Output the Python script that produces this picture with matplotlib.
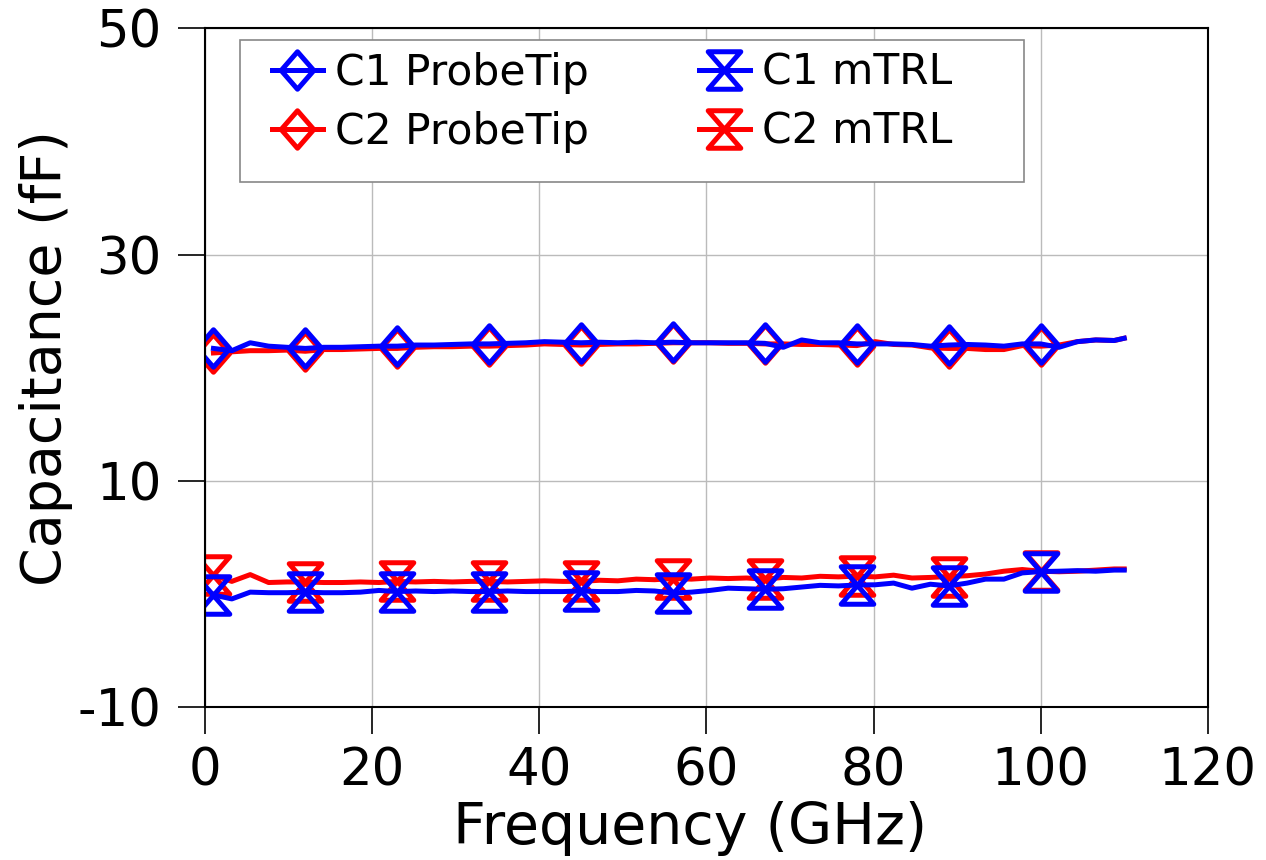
import numpy as np
import matplotlib
matplotlib.use("Agg")
import matplotlib.pyplot as plt
from matplotlib.path import Path
from matplotlib.patches import Rectangle

plt.rcParams["font.family"] = ["DejaVu Sans"]
plt.rcParams["axes.unicode_minus"] = False

# frequency grid (GHz), markers every 5th point -> 1, 12, 23, ... 100
freq = list(np.round(np.arange(1, 109.9, 2.2), 1)) + [110.0]

c1_probetip = [21.7, 21.5, 22.2, 21.9, 21.8, 21.7, 21.8, 21.8, 21.85, 21.9,
               21.9, 22.0, 22.0, 22.05, 22.1, 22.1, 22.15, 22.2, 22.3, 22.25,
               22.2, 22.25, 22.2, 22.25, 22.2, 22.25, 22.2, 22.2, 22.2, 22.2,
               22.15, 21.8, 22.45, 22.2, 22.2, 22.1, 22.1, 22.1, 22.05, 21.9,
               22.0, 22.05, 22.0, 21.9, 22.1, 22.1, 21.8, 22.3, 22.45, 22.4,
               22.6]
c2_probetip = [21.3, 21.4, 21.5, 21.5, 21.55, 21.45, 21.6, 21.6, 21.65, 21.7,
               21.7, 21.8, 21.85, 21.85, 21.9, 21.9, 21.95, 22.0, 22.1, 22.05,
               22.0, 22.05, 22.1, 22.1, 22.15, 22.2, 22.2, 22.2, 22.15, 22.15,
               22.1, 22.1, 22.05, 22.05, 22.0, 21.95, 22.3, 22.05, 22.0, 21.75,
               21.7, 21.7, 21.6, 21.6, 21.95, 21.9, 22.0, 22.3, 22.45, 22.4,
               22.6]
c1_mtrl = [-0.1, -0.45, 0.15, 0.1, 0.1, 0.15, 0.1, 0.1, 0.15, 0.3,
           0.2, 0.25, 0.2, 0.25, 0.2, 0.2, 0.25, 0.2, 0.2, 0.2,
           0.25, 0.2, 0.2, 0.3, 0.25, 0.07, 0.15, 0.3, 0.5, 0.45,
           0.4, 0.45, 0.6, 0.75, 0.7, 0.78, 0.8, 0.95, 0.5, 0.85,
           0.7, 0.95, 1.3, 1.3, 1.85, 1.97, 2.0, 2.05, 2.0, 2.1,
           2.1]
c2_mtrl = [1.65, 1.1, 1.7, 1.0, 1.05, 1.05, 1.0, 1.0, 1.05, 1.0,
           1.1, 1.05, 1.1, 1.05, 1.1, 1.1, 1.05, 1.1, 1.15, 1.1,
           1.1, 1.2, 1.15, 1.3, 1.25, 1.35, 1.3, 1.4, 1.35, 1.4,
           1.3, 1.45, 1.4, 1.55, 1.5, 1.57, 1.5, 1.65, 1.4, 1.45,
           1.53, 1.6, 1.75, 2.0, 2.15, 2.0, 1.95, 2.0, 2.1, 2.2,
           2.2]

diamond = Path([(0, 1), (0.87, 0), (0, -1), (-0.87, 0), (0, 1)],
               [Path.MOVETO, Path.LINETO, Path.LINETO, Path.LINETO, Path.CLOSEPOLY])
hourglass = Path([(-0.87, 1), (0.87, 1), (-0.87, -1), (0.87, -1), (-0.87, 1)],
                 [Path.MOVETO, Path.LINETO, Path.LINETO, Path.LINETO, Path.CLOSEPOLY])

marks = list(range(0, 46, 5))
style = dict(lw=3.6, ms=27, mew=3.6, mfc="none", markevery=marks)

fig, ax = plt.subplots(figsize=(12.66, 8.6), dpi=100)
fig.subplots_adjust(left=0.162, right=0.954, top=0.967, bottom=0.178)

l2p, = ax.plot(freq, c2_probetip, color="#ff0000", marker=diamond, label="C2 ProbeTip", **style)
l2m, = ax.plot(freq, c2_mtrl, color="#ff0000", marker=hourglass, label="C2 mTRL", **style)
l1p, = ax.plot(freq, c1_probetip, color="#0000ff", marker=diamond, label="C1 ProbeTip", **style)
l1m, = ax.plot(freq, c1_mtrl, color="#0000ff", marker=hourglass, label="C1 mTRL", **style)

ax.set_xlim(0, 120)
ax.set_ylim(-10, 50)
ax.set_xticks(range(0, 121, 20))
ax.set_yticks([-10, 10, 30, 50])
ax.grid(True, color="#bbbbbb", lw=1)
ax.set_axisbelow(True)
for sp in ax.spines.values():
    sp.set_linewidth(1.5)
ax.tick_params(direction="out", length=19.5, width=1.2, labelsize=37)
ax.tick_params(axis="x", pad=9)
ax.tick_params(axis="y", pad=12)

ax.set_xlabel("Frequency (GHz)", fontsize=41, labelpad=3)
ax.set_ylabel("Capacitance (fF)", fontsize=40, labelpad=3)
ax.xaxis.label.set_x(0.4835)
ax.yaxis.label.set_y(0.514)

# legend frame drawn separately so the entries can sit high in the box
ax.add_patch(Rectangle((0.0349, 0.7732), 0.7817, 0.2091, transform=ax.transAxes,
                       facecolor="white", edgecolor="#888888", lw=1.2, zorder=4))
leg = ax.legend(handles=[l1p, l2p, l1m, l2m], ncol=2, loc="upper left",
                bbox_to_anchor=(0.0668, 0.9657), frameon=False,
                fontsize=30.5, handlelength=1.2, handletextpad=0.28,
                columnspacing=2.6, borderpad=0, labelspacing=0.40,
                borderaxespad=0)
leg.set_zorder(5)

fig.savefig("out.png", dpi=100)
